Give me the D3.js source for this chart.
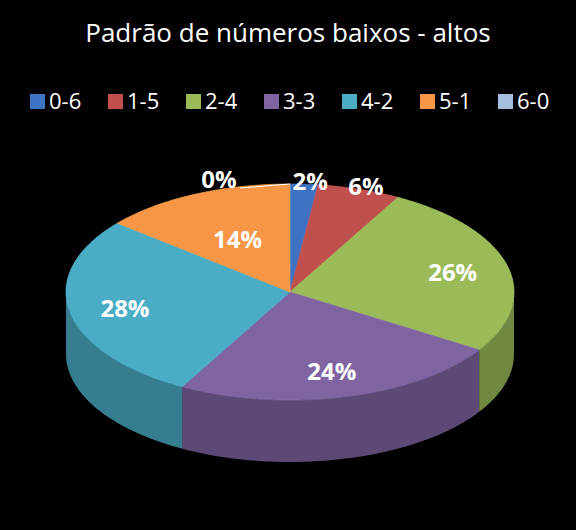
<!DOCTYPE html>
<html><head><meta charset="utf-8">
<script src="https://cdn.jsdelivr.net/npm/d3@7"></script>
<style>body{margin:0;background:#000}</style>
</head><body><svg width="576" height="530"></svg>
<script>
"use strict"
const categories = ["0-6", "1-5", "2-4", "3-3", "4-2", "5-1", "6-0"]
const values = [2, 6, 26, 24, 28, 14, 0]
const colors = ["#3f72c2", "#c0504d", "#9bbb59", "#8064a2", "#4bacc6", "#f79646", "#a7bfde"]
const labels = values.map(v => v + "%")

const svg = d3.select("svg")
svg.append("rect").attr("width", 576).attr("height", 530).attr("fill", "#000")
const font = "'Open Sans', Lato, sans-serif"

svg.append("text").attr("x", 288).attr("y", 42).attr("text-anchor", "middle")
    .attr("fill", "#fff").attr("font-family", font).attr("font-size", 26).text("Padrão de números baixos - altos")

// legend
const legX = d3.scalePoint().domain(categories).range([30, 498])
const leg = svg.selectAll("g.leg").data(categories).enter().append("g")
    .attr("transform", d => `translate(${legX(d)},103)`)
leg.append("rect").attr("x", 0).attr("y", -9).attr("width", 15).attr("height", 15)
    .attr("fill", (d, i) => colors[i])
leg.append("text").attr("x", 19).attr("y", 6).attr("fill", "#fff")
    .attr("font-family", font).attr("font-size", 22).text(d => d)

const cx = 290, cy = 292, rx = 224, ry = 108, depth = 62
const pie = d3.pie().sort(null).value(d => d)(values)
const pt = (a, k = 1, dy = 0) => [cx + rx * k * Math.sin(a), cy - ry * k * Math.cos(a) + dy]
const arcPts = (a0, a1, dy) => {
    const n = Math.max(2, Math.ceil((a1 - a0) / 0.02))
    return d3.range(n + 1).map(i => pt(a0 + (a1 - a0) * i / n, 1, dy))
}

// side walls (front half)
pie.forEach((s, i) => {
    const a0 = Math.max(s.startAngle, Math.PI / 2), a1 = Math.min(s.endAngle, Math.PI * 1.5)
    if (a1 <= a0) return
    const top = arcPts(a0, a1, 0), bot = arcPts(a0, a1, depth).reverse()
    svg.append("path").attr("d", d3.line()(top.concat(bot)) + "Z")
        .attr("fill", d3.color(colors[i]).darker(0.9))
})
// top faces
pie.forEach((s, i) => {
    if (s.endAngle - s.startAngle <= 0) return
    const pts = [[cx, cy]].concat(arcPts(s.startAngle, s.endAngle, 0))
    svg.append("path").attr("d", d3.line()(pts) + "Z")
        .attr("fill", colors[i]).attr("stroke", d3.color(colors[i]).brighter(0.4)).attr("stroke-width", 0.6)
})

const lab = (x, y, t) => svg.append("text").attr("x", x).attr("y", y).attr("text-anchor", "middle")
    .attr("dominant-baseline", "central").attr("fill", "#fff").attr("font-family", font)
    .attr("font-weight", "bold").attr("font-size", 24).text(t)

pie.forEach((s, i) => {
    const mid = (s.startAngle + s.endAngle) / 2
    if (values[i] === 0) {
        svg.append("line").attr("x1", 240).attr("y1", 188).attr("x2", cx).attr("y2", cy - ry)
            .attr("stroke", "#fff").attr("stroke-width", 1)
        lab(219, 178, labels[i])
        return
    }
    const share = values[i] / d3.sum(values)
    const k = share < 0.1 ? 1.01 : (share < 0.2 ? 0.55 : 0.75)
    const [x, y] = pt(mid, k)
    lab(x + (share < 0.1 ? 6 : 0), y + (share < 0.1 ? -3 : 0), labels[i])
})
</script></body></html>
